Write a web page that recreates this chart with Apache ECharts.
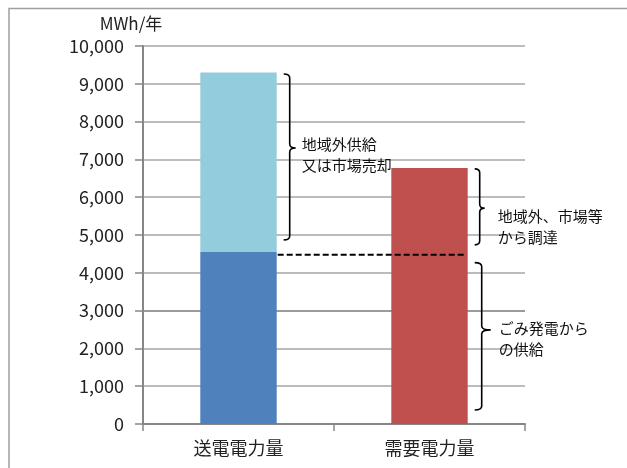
<!DOCTYPE html>
<html>
<head>
<meta charset="utf-8">
<script src="https://cdn.jsdelivr.net/npm/echarts@6/dist/echarts.min.js"></script>
<style>
  html, body { margin: 0; padding: 0; background: #fff; }
  #chart { width: 627px; height: 468px; }
</style>
</head>
<body>
<div id="chart"></div>
<script>
// categories and stacked bar values (MWh/年)
const categories = ['送電電力量', '需要電力量']
const ownSupply = [4550, '-']      // 送電のうち域内分
const surplus = [4750, '-']        // 地域外供給又は市場売却
const demand = ['-', 6770]         // 需要電力量
const yTicks = { min: 0, max: 10000, step: 1000 }

// dashed reference line: from category 0 to category 1 at this value
const dashLine = [[0, 1, 4480]]

// braces: [category index, low, high, tip]
const braces = [
  [0, 4870, 9260, 7300],
  [1, 4740, 6750, 5710],
  [1, 370, 4270, 2490],
]
const braceTexts = [
  '地域外供給\n又は市場売却',
  '地域外、市場等\nから調達',
  'ごみ発電から\nの供給',
]
// per-brace drawing style (pixels)
const braceStyle = [
  { gap: 7, arm: 6, tip: 6, dx: 12, dy: -14 },
  { gap: 7, arm: 5, tip: 5, dx: 18, dy: -2 },
  { gap: 7, arm: 7, tip: 9, dx: 17, dy: -12 },
]

const FONT = '"Noto Sans CJK JP", "Noto Sans", sans-serif'
const gridColors = ['#a6a6a6', '#a6a6a6', '#a6a6a6', '#7a7a7a', '#a6a6a6', '#a6a6a6', '#a6a6a6', '#a6a6a6', '#a6a6a6', '#a6a6a6', '#a6a6a6']

const chart = echarts.init(document.getElementById('chart'))

function renderBrace(params, api) {
  const i = params.dataIndex
  const s = braceStyle[i]
  const band = api.size([1, 0])[0]
  const top = api.coord([api.value(0), api.value(2)])
  const bot = api.coord([api.value(0), api.value(1)])
  const tip = api.coord([api.value(0), api.value(3)])
  const x0 = top[0] + band * 0.2 + s.gap
  const xv = x0 + s.arm
  const xt = xv + s.tip
  const yT = top[1], yB = bot[1], yM = tip[1]
  const r = 4
  const path = [
    `M${x0} ${yT}`, `Q${xv} ${yT} ${xv} ${yT + r}`,
    `L${xv} ${yM - r}`, `Q${xv} ${yM} ${xt} ${yM}`,
    `M${xt} ${yM}`, `Q${xv} ${yM} ${xv} ${yM + r}`,
    `L${xv} ${yB - r}`, `Q${xv} ${yB} ${x0} ${yB}`,
  ].join(' ')
  return {
    type: 'group',
    children: [
      {
        type: 'path',
        shape: { pathData: path },
        style: { fill: 'none', stroke: '#000', lineWidth: 1.6 },
      },
      {
        type: 'text',
        x: xt + s.dx - s.tip,
        y: yM + s.dy,
        style: {
          text: braceTexts[i],
          fill: '#111',
          font: '15px ' + FONT,
          lineHeight: 21,
          verticalAlign: 'top',
          align: 'left',
        },
      },
    ],
  }
}

function renderDash(params, api) {
  const band = api.size([1, 0])[0]
  const a = api.coord([api.value(0), api.value(2)])
  const b = api.coord([api.value(1), api.value(2)])
  return {
    type: 'line',
    shape: { x1: a[0] + band * 0.2 + 1, y1: a[1], x2: b[0] + band * 0.2 - 2, y2: b[1] },
    style: { stroke: '#000', lineWidth: 2, lineDash: [6, 3] },
  }
}

chart.setOption({
  backgroundColor: '#fff',
  animation: false,
  textStyle: { fontFamily: FONT },
  grid: { left: 143, right: 102, top: 46, bottom: 44 },
  graphic: [
    {
      type: 'rect', silent: true,
      shape: { x: 9, y: 8.5, width: 700, height: 600 },
      style: { fill: 'none', stroke: '#a0a0a0', lineWidth: 1.5 },
    },
  ],
  xAxis: {
    type: 'category',
    data: categories,
    axisLine: { lineStyle: { color: '#868686', width: 2 } },
    axisTick: { show: true, length: 7, alignWithLabel: false, lineStyle: { color: '#868686', width: 1.5 } },
    axisLabel: { color: '#222', fontSize: 18, margin: 15, fontFamily: FONT },
    splitLine: { show: false },
  },
  yAxis: {
    type: 'value',
    min: yTicks.min, max: yTicks.max, interval: yTicks.step,
    name: 'MWh/年',
    nameLocation: 'end',
    nameGap: 14,
    nameTextStyle: { color: '#222', fontSize: 17, fontFamily: FONT, padding: [0, 24, 0, 0] },
    axisLine: { show: true, lineStyle: { color: '#868686', width: 2 } },
    axisTick: { show: true, length: 8, lineStyle: { color: '#868686', width: 1.5 } },
    axisLabel: {
      color: '#222', fontSize: 18, margin: 19, fontFamily: FONT,
      formatter: v => v.toLocaleString('en-US'),
    },
    splitLine: { show: true, lineStyle: { color: gridColors, width: 1.5 } },
  },
  series: [
    {
      name: '域内供給', type: 'bar', stack: 'total', barWidth: '40%',
      data: ownSupply, itemStyle: { color: '#4f81bd' },
    },
    {
      name: '地域外供給又は市場売却', type: 'bar', stack: 'total', barWidth: '40%',
      data: surplus, itemStyle: { color: '#93cddd' },
    },
    {
      name: '需要電力量', type: 'bar', stack: 'total', barWidth: '40%',
      data: demand, itemStyle: { color: '#c0504d' },
    },
    {
      name: 'dash', type: 'custom', renderItem: renderDash, data: dashLine, z: 5,
      encode: { x: [0, 1], y: 2 },
    },
    {
      name: 'braces', type: 'custom', renderItem: renderBrace, data: braces, z: 6,
      encode: { x: 0, y: [1, 2, 3] },
    },
  ],
})
</script>
</body>
</html>
